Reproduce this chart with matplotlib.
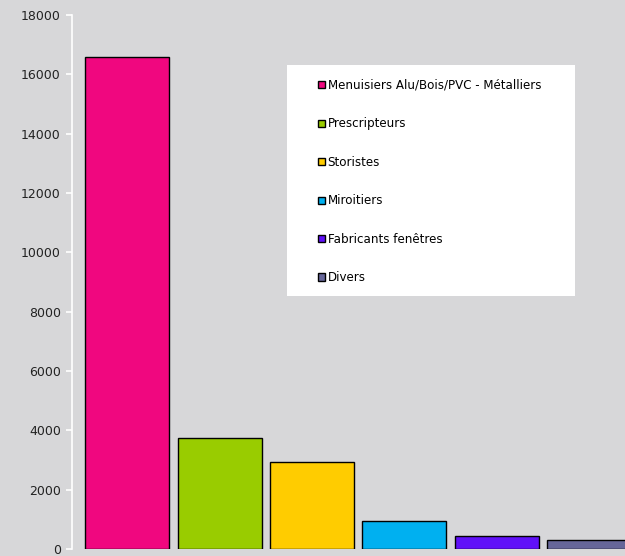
import matplotlib
matplotlib.use("Agg")
import matplotlib.pyplot as plt
from matplotlib.patches import Rectangle

categories = ["Menuisiers Alu/Bois/PVC - Métalliers", "Prescripteurs", "Storistes",
              "Miroitiers", "Fabricants fenêtres", "Divers"]
values = [16600, 3740, 2930, 950, 440, 300]
colors = ["#f0077f", "#99cc00", "#ffcc00", "#00b0f0", "#6010f8", "#666699"]
yticks = [0, 2000, 4000, 6000, 8000, 10000, 12000, 14000, 16000, 18000]

bg = "#d7d7d9"
fig = plt.figure(figsize=(6.25, 5.56), dpi=100, facecolor=bg)
ax = fig.add_axes([72/625, 7/556, (625-72)/625, 534/556])
ax.set_facecolor(bg)

x = list(range(len(values)))
bars = ax.bar(x, values, width=0.91, color=colors, edgecolor="black", linewidth=1.0)

ax.set_xlim(-0.6, 5.39)
ax.set_ylim(0, 18000)
ax.set_yticks(yticks)
ax.set_yticklabels([str(t) for t in yticks], fontsize=9, color="#222222")
ax.set_xticks([])
for s in ["top", "right", "bottom"]:
    ax.spines[s].set_visible(False)
ax.spines["left"].set_color("white")
ax.spines["left"].set_linewidth(1.2)
ax.tick_params(axis="y", colors="white", length=4, width=1.2, pad=4, labelcolor="#222222")

# legend background box
fig.patches.append(Rectangle((287/625, 1-296/556), (575-287)/625, (296-65)/556,
                             transform=fig.transFigure, facecolor="white",
                             edgecolor="none", zorder=1))
leg = fig.legend(bars, categories, loc="upper left",
                 bbox_to_anchor=(318/625, 1-79/556), bbox_transform=fig.transFigure,
                 frameon=False, fontsize=8.6, handlelength=0.55, handleheight=0.55,
                 handletextpad=0.25, labelspacing=2.13, borderpad=0, borderaxespad=0)
for h in leg.legend_handles:
    h.set_linewidth(1.0)
leg.set_zorder(5)

fig.savefig("out.png", dpi=100, facecolor=bg)
